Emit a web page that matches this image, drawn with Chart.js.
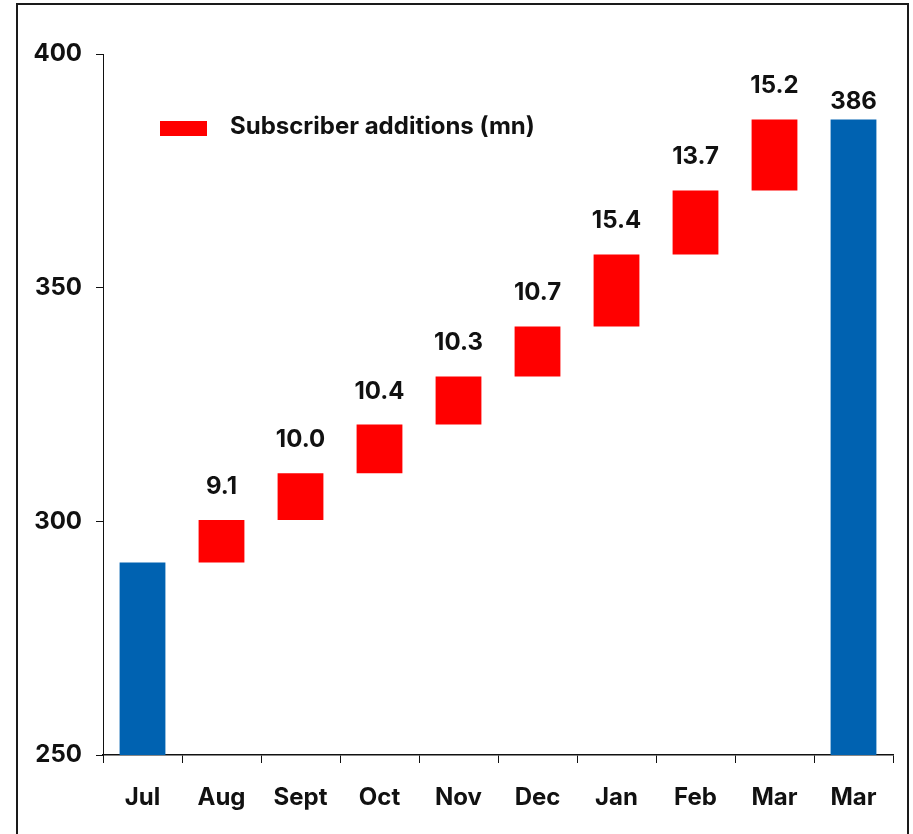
<!DOCTYPE html>
<html>
<head>
<meta charset="utf-8">
<script src="https://cdn.jsdelivr.net/npm/chart.js@4/dist/chart.umd.min.js"></script>
<style>
  html, body { margin: 0; padding: 0; background: #fff; overflow: hidden; }
  #wrap { position: relative; width: 913px; height: 834px; }
  #frame { position: absolute; left: 16px; top: 3px; width: 889px; height: 900px;
           border: 2px solid #1a1a1a; pointer-events: none; }
  canvas { position: absolute; left: 0; top: 0; }
</style>
</head>
<body>
<div id="wrap">
  <canvas id="chart" width="913" height="834"></canvas>
  <div id="frame"></div>
</div>
<script>
// Subscriber waterfall: opening base, monthly additions, closing base
const months = ['Jul', 'Aug', 'Sept', 'Oct', 'Nov', 'Dec', 'Jan', 'Feb', 'Mar', 'Mar'];
const openingSubs = 291.2;
const additions = [9.1, 10.0, 10.4, 10.3, 10.7, 15.4, 13.7, 15.2];
const closingSubs = 386;
const yTicks = [250, 300, 350, 400];

const FONT = 'Inter, "DejaVu Sans Condensed", sans-serif';
const RED = '#ff0000';
const BLUE = '#0062b1';

// build floating bars from the additions
let running = openingSubs;
const addBars = [null];
additions.forEach(a => {
  addBars.push([running, running + a]);
  running += a;
});
addBars.push(null);

const totalBars = months.map((m, i) => {
  if (i === 0) return openingSubs;
  if (i === months.length - 1) return closingSubs;
  return null;
});

const labelPlugin = {
  id: 'waterfallLabels',
  afterDatasetsDraw(chart) {
    const ctx = chart.ctx;
    ctx.save();
    ctx.fillStyle = '#111';
    ctx.font = 'bold 24px ' + FONT;
    ctx.textAlign = 'center';
    ctx.textBaseline = 'alphabetic';

    chart.getDatasetMeta(1).data.forEach((bar, i) => {
      if (addBars[i] == null) return;
      ctx.fillText(additions[i - 1].toFixed(1), bar.x, bar.y - 26);
    });
    const last = chart.getDatasetMeta(0).data[months.length - 1];
    ctx.fillText(String(closingSubs), last.x, last.y - 10);

    // legend inside the plot area
    const a = chart.chartArea;
    ctx.fillStyle = RED;
    ctx.fillRect(a.left + 57, a.top + 67, 47, 15);
    ctx.fillStyle = '#111';
    ctx.textAlign = 'left';
    ctx.textBaseline = 'middle';
    ctx.fillText(chart.data.datasets[1].label, a.left + 127, a.top + 73);
    ctx.restore();
  }
};

new Chart(document.getElementById('chart'), {
  type: 'bar',
  data: {
    labels: months,
    datasets: [
      {
        label: 'Total subscribers (mn)',
        data: totalBars,
        backgroundColor: BLUE,
        categoryPercentage: 1,
        barPercentage: 0.58
      },
      {
        label: 'Subscriber additions (mn)',
        data: addBars,
        backgroundColor: RED,
        categoryPercentage: 1,
        barPercentage: 0.58
      }
    ]
  },
  options: {
    responsive: false,
    animation: false,
    layout: { padding: { left: 0, top: 54, right: 20, bottom: 0 } },
    plugins: {
      legend: { display: false },
      tooltip: { enabled: false }
    },
    datasets: { bar: { grouped: false } },
    scales: {
      x: {
        grid: { display: true, drawOnChartArea: false, drawTicks: true, tickLength: 8, tickColor: '#111', offset: true },
        border: { color: '#111', width: 1.5 },
        ticks: { color: '#111', font: { family: FONT, size: 24, weight: 'bold' }, padding: 20, maxRotation: 0 },
        afterFit: s => { s.height = 79; }
      },
      y: {
        min: 250,
        max: 400,
        afterBuildTicks: s => { s.ticks = yTicks.map(v => ({ value: v })); },
        grid: { display: true, drawOnChartArea: false, drawTicks: true, tickLength: 7, tickColor: '#111' },
        border: { color: '#111', width: 1 },
        ticks: { color: '#111', font: { family: FONT, size: 24, weight: 'bold' }, padding: 14 },
        afterFit: s => { s.width = 103; }
      }
    }
  },
  plugins: [labelPlugin]
});
</script>
</body>
</html>
